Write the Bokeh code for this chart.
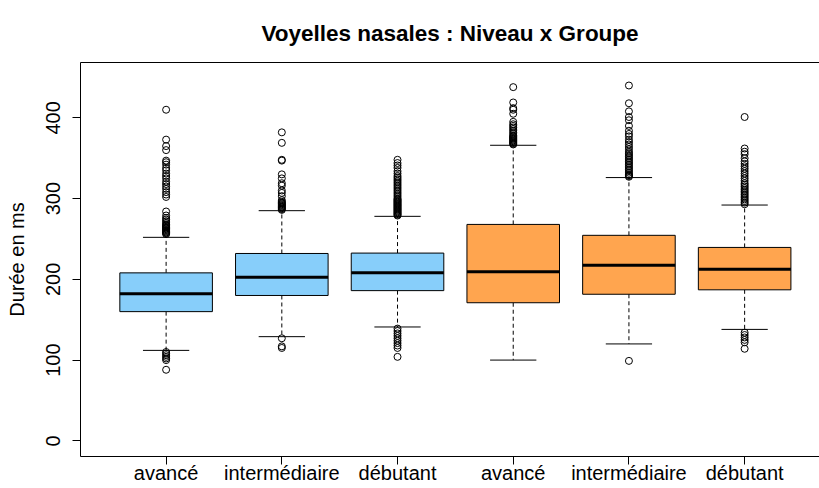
from bokeh.plotting import figure
from bokeh.models import FixedTicker, Range1d, LinearAxis, ColumnDataSource
from bokeh.embed import file_html
from bokeh.resources import INLINE

# ---- data ----
niveaux = ["avancé", "intermédiaire", "débutant", "avancé", "intermédiaire", "débutant"]
groupes = ["groupe 1", "groupe 1", "groupe 1", "groupe 2", "groupe 2", "groupe 2"]
q1 = [160, 180, 186, 171, 181.5, 187]
medians = [182, 202.5, 208, 209.5, 217.5, 212.5]
q3 = [208, 232, 232.5, 268, 254.5, 239.5]
whisker_low = [112, 129, 141, 100, 120, 138]
whisker_high = [252, 285, 278, 366, 326, 292]

outliers_avance_1 = [256, 257, 258, 259, 260, 261, 262, 263, 264, 265, 266, 267, 268, 270, 272,
                     274, 276, 279, 284, 302, 305, 308, 312, 315, 318, 321, 325, 328, 331, 335,
                     338, 342, 345, 347, 360, 365, 373, 410,
                     110, 108, 106, 104, 102, 100, 88]
outliers_inter_1 = [286, 287, 288, 289, 290, 291, 292, 293, 294, 295, 296, 298, 303, 307, 310,
                    316, 319, 325, 330, 347, 348, 369, 382,
                    127, 117, 115]
outliers_debut_1 = [279, 280, 281, 282, 283, 284, 285, 286, 287, 288, 289, 290, 291, 292, 293,
                    294, 295, 296, 297, 298, 299, 300, 302, 304, 306, 308, 310, 312, 314, 316,
                    318, 320, 322, 324, 326, 328, 331, 334, 338, 341, 344, 348,
                    139, 136, 133, 130, 127, 124, 121, 118, 115, 104]
outliers_avance_2 = [367, 368, 369, 370, 371, 372, 373, 374, 375, 376, 377, 378, 380, 382, 384,
                     386, 388, 390, 392, 395, 405, 410, 412, 419, 438]
outliers_inter_2 = [327, 328, 329, 330, 332, 334, 336, 338, 340, 342, 344, 346, 348, 350, 352,
                    354, 356, 358, 361, 364, 367, 370, 373, 377, 380, 384, 390, 397, 401, 408,
                    418, 440, 99]
outliers_debut_2 = [293, 295, 297, 299, 301, 303, 305, 307, 309, 311, 313, 315, 317, 319, 322,
                    325, 328, 331, 334, 337, 340, 343, 346, 350, 355, 358, 362, 401,
                    134, 131, 128, 125, 122, 114]
outliers = [outliers_avance_1, outliers_inter_1, outliers_debut_1,
            outliers_avance_2, outliers_inter_2, outliers_debut_2]

y_ticks = [0, 100, 200, 300, 400]
title_text = "Voyelles nasales : Niveau x Groupe"

# ---- styles ----
group_colors = {"groupe 1": "#87CEFA", "groupe 2": "#FFA54F"}
FONT = "Liberation Sans"

pos = list(range(1, len(niveaux) + 1))
box_w = 0.8
staple_w = 0.4

box_src = ColumnDataSource(dict(
    x=pos, q1=q1, q3=q3, med=medians, lo=whisker_low, hi=whisker_high,
    color=[group_colors[g] for g in groupes],
    mx0=[p - box_w / 2 for p in pos], mx1=[p + box_w / 2 for p in pos],
    sx0=[p - staple_w / 2 for p in pos], sx1=[p + staple_w / 2 for p in pos],
))

ox, oy = [], []
for p_, vals in zip(pos, outliers):
    ox += [p_] * len(vals)
    oy += vals

p = figure(width=819, height=488, output_backend="svg", toolbar_location=None,
           x_range=Range1d(0.26, 6.647), y_range=Range1d(-19.4, 468.5),
           min_border_left=80, min_border_right=0, min_border_top=62, min_border_bottom=32,
           x_axis_location=None, y_axis_location=None)
p.outline_line_color = None
p.xgrid.visible = False
p.ygrid.visible = False
p.background_fill_color = "white"
p.border_fill_color = "white"

# axes
yax = LinearAxis(ticker=FixedTicker(ticks=y_ticks), axis_label="Durée en ms")
yax.major_label_orientation = "vertical"
yax.major_tick_out = 8
yax.major_tick_in = 0
yax.minor_tick_line_color = None
yax.major_label_standoff = 12
yax.axis_label_standoff = 16
yax.major_label_text_font = FONT
yax.major_label_text_font_size = "20px"
yax.major_label_text_color = "black"
yax.axis_label_text_font = FONT
yax.axis_label_text_font_size = "20px"
yax.axis_label_text_font_style = "normal"
yax.axis_label_text_color = "black"
yax.axis_line_color = "black"
yax.major_tick_line_color = "black"
p.add_layout(yax, "left")

xax = LinearAxis(ticker=FixedTicker(ticks=pos))
xax.major_label_overrides = {p_: lab for p_, lab in zip(pos, niveaux)}
xax.major_tick_out = 8
xax.major_tick_in = 0
xax.minor_tick_line_color = None
xax.major_label_standoff = -3
xax.major_label_text_font = FONT
xax.major_label_text_font_size = "20px"
xax.major_label_text_color = "black"
xax.axis_line_color = "black"
xax.major_tick_line_color = "black"
p.add_layout(xax, "below")

top = LinearAxis(ticker=FixedTicker(ticks=[]))
top.major_tick_out = 0
top.major_tick_in = 0
top.minor_tick_out = 0
top.minor_tick_in = 0
top.major_label_standoff = 0
top.axis_line_color = "black"
p.add_layout(top, "above")

# whiskers (dashed)
p.segment(x0="x", x1="x", y0="q3", y1="hi", source=box_src, line_color="black",
          line_width=1, line_dash="4 3")
p.segment(x0="x", x1="x", y0="q1", y1="lo", source=box_src, line_color="black",
          line_width=1, line_dash="4 3")
# staples
p.segment(x0="sx0", x1="sx1", y0="hi", y1="hi", source=box_src, line_color="black", line_width=1)
p.segment(x0="sx0", x1="sx1", y0="lo", y1="lo", source=box_src, line_color="black", line_width=1)
# boxes
p.vbar(x="x", width=box_w, bottom="q1", top="q3", source=box_src, fill_color="color",
       line_color="black", line_width=1)
# medians
p.segment(x0="mx0", x1="mx1", y0="med", y1="med", source=box_src, line_color="black",
          line_width=3)
# outliers
p.scatter(ox, oy, marker="circle", size=7, fill_alpha=0, line_color="black", line_width=1)

p.title.text = title_text
p.title.align = "center"
p.title.text_font = FONT
p.title.text_font_size = "22.5px"
p.title.text_font_style = "bold"
p.title.text_color = "black"
p.title.standoff = 34
p.title.offset = 6

open("out.html", "w").write(file_html(p, INLINE))
